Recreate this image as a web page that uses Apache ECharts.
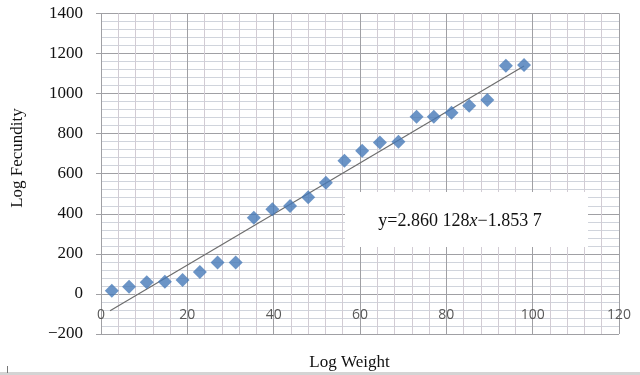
<!DOCTYPE html>
<html>
<head>
<meta charset="utf-8">
<script src="https://cdn.jsdelivr.net/npm/echarts@6/dist/echarts.min.js"></script>
<style>
html,body{margin:0;padding:0;background:#fff;}
#c{width:640px;height:375px;}
</style>
</head>
<body>
<div id="c"></div>
<script>
var logWeight = [2.5, 6.5, 10.6, 14.8, 18.9, 22.9, 27.0, 31.2, 35.4, 39.7, 43.8, 48.0, 52.1, 56.4, 60.5, 64.6, 68.9, 73.1, 77.1, 81.2, 85.3, 89.5, 93.8, 98.0];
var logFecundity = [16, 36, 58, 61, 69, 110, 157, 157, 380, 422, 439, 482, 555, 665, 715, 756, 760, 884, 884, 904, 939, 968, 1139, 1142];
var trendX = [2.1, 98];
var trendY = [-84, 1137];
var xTicks = [0, 120, 20];
var yTicks = [-200, 1400, 200];
var equation = 'y=2.860 128{i|x}\u22121.853 7';
var xName = 'Log Weight';
var yName = 'Log Fecundity';

var chart = echarts.init(document.getElementById('c'), null, {renderer: 'canvas'});
var pts = logWeight.map(function (x, i) { return [x, logFecundity[i]]; });
var trend = trendX.map(function (x, i) { return [x, trendY[i]]; });

chart.setOption({
  animation: false,
  backgroundColor: '#ffffff',
  grid: {left: 101, right: 21, top: 13.4, bottom: 41, containLabel: false},
  xAxis: {
    type: 'value', min: xTicks[0], max: xTicks[1], interval: xTicks[2],
    axisLine: {show: false},
    axisTick: {show: false},
    axisLabel: {inside: true, margin: 12, fontFamily: 'Open Sans', fontSize: 14, color: '#595959'},
    splitLine: {show: true, lineStyle: {color: '#a0a0a4', width: 1}},
    minorTick: {show: false, splitNumber: 5},
    minorSplitLine: {show: true, lineStyle: {color: '#d2ccd4', width: 1}}
  },
  yAxis: {
    type: 'value', min: yTicks[0], max: yTicks[1], interval: yTicks[2],
    axisLine: {show: false},
    axisTick: {show: true, length: 5, lineStyle: {color: '#a0a0a4'}},
    axisLabel: {margin: 18, fontFamily: 'Liberation Serif', fontSize: 17, color: '#111',
      formatter: function (v) { return v < 0 ? '\u2212' + Math.abs(v) : String(v); }},
    splitLine: {show: true, lineStyle: {color: '#a0a0a4', width: 1}},
    minorTick: {show: false, splitNumber: 5},
    minorSplitLine: {show: true, lineStyle: {color: '#d0d4dc', width: 1}}
  },
  series: [
    {
      type: 'line', data: trend, showSymbol: false, symbol: 'none', z: 3,
      lineStyle: {color: '#6e6e6e', width: 1.2}
    },
    {
      type: 'scatter', data: pts, symbol: 'diamond', symbolSize: 14, z: 4,
      itemStyle: {color: '#4679b8'}
    }
  ],
  graphic: [
    {type: 'rect', shape: {x: 345, y: 192, width: 243, height: 55}, style: {fill: '#ffffff'}, z: 10},
    {type: 'text', x: 460, y: 221, z: 11, style: {
      text: equation, fontFamily: 'Liberation Serif', fontSize: 18, fill: '#111',
      align: 'center', verticalAlign: 'middle',
      rich: {i: {fontFamily: 'Liberation Serif', fontStyle: 'italic', fontSize: 18, fill: '#111'}}
    }},
    {type: 'text', x: 349.5, y: 363, z: 11, style: {
      text: xName, fontFamily: 'Liberation Serif', fontSize: 17, fill: '#111',
      align: 'center', verticalAlign: 'middle'
    }},
    {type: 'text', x: 18, y: 158, rotation: Math.PI / 2, z: 11, style: {
      text: yName, fontFamily: 'Liberation Serif', fontSize: 17, fill: '#111',
      align: 'center', verticalAlign: 'middle'
    }},
    {type: 'rect', shape: {x: 0, y: 372, width: 640, height: 3}, style: {fill: '#d4d4d4'}, z: 10},
    {type: 'rect', shape: {x: 7, y: 366, width: 1, height: 7}, style: {fill: '#777'}, z: 10}
  ]
});
</script>
</body>
</html>
